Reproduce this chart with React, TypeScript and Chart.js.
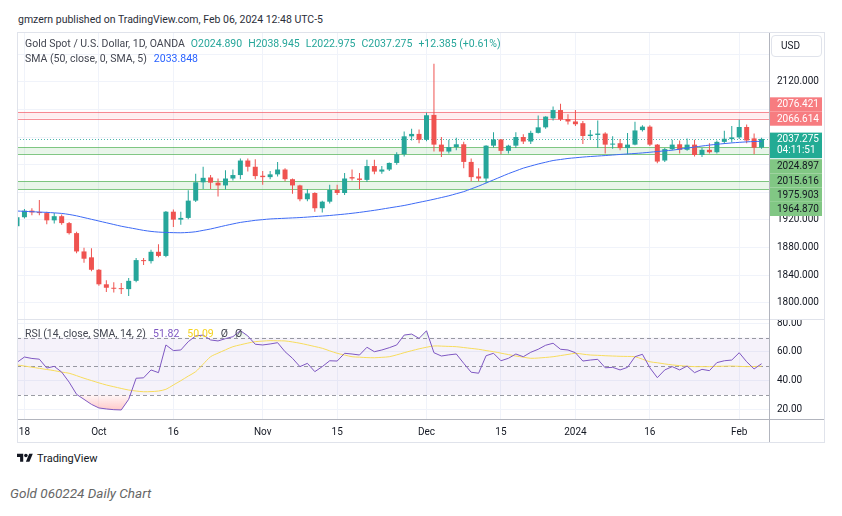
import React, { useEffect, useRef } from "react";
import { Chart, registerables } from "chart.js";

Chart.register(...registerables);

// ---------------- data ----------------
const dates = [
  "2023-09-15", "2023-09-18", "2023-09-19", "2023-09-20", "2023-09-21", "2023-09-22", "2023-09-25", "2023-09-26", "2023-09-27", "2023-09-28", "2023-09-29",
  "2023-10-02", "2023-10-03", "2023-10-04", "2023-10-05", "2023-10-06", "2023-10-09", "2023-10-10", "2023-10-11", "2023-10-12", "2023-10-13",
  "2023-10-16", "2023-10-17", "2023-10-18", "2023-10-19", "2023-10-20", "2023-10-23", "2023-10-24", "2023-10-25", "2023-10-26", "2023-10-27",
  "2023-10-30", "2023-10-31",
  "2023-11-01", "2023-11-02", "2023-11-03", "2023-11-06", "2023-11-07", "2023-11-08", "2023-11-09", "2023-11-10", "2023-11-13", "2023-11-14",
  "2023-11-15", "2023-11-16", "2023-11-17", "2023-11-20", "2023-11-21", "2023-11-22", "2023-11-23", "2023-11-24", "2023-11-27", "2023-11-28",
  "2023-11-29", "2023-11-30",
  "2023-12-01", "2023-12-04", "2023-12-05", "2023-12-06", "2023-12-07", "2023-12-08", "2023-12-11", "2023-12-12", "2023-12-13", "2023-12-14",
  "2023-12-15", "2023-12-18", "2023-12-19", "2023-12-20", "2023-12-21", "2023-12-22", "2023-12-26", "2023-12-27", "2023-12-28", "2023-12-29",
  "2024-01-02", "2024-01-03", "2024-01-04", "2024-01-05", "2024-01-08", "2024-01-09", "2024-01-10", "2024-01-11", "2024-01-12", "2024-01-15",
  "2024-01-16", "2024-01-17", "2024-01-18", "2024-01-19", "2024-01-22", "2024-01-23", "2024-01-24", "2024-01-25", "2024-01-26", "2024-01-29",
  "2024-01-30", "2024-01-31",
  "2024-02-01", "2024-02-02", "2024-02-05", "2024-02-06",
];

const opens = [
  1911, 1924, 1933.5, 1931, 1930, 1919.5, 1925.5, 1915.5, 1901, 1874.5,
  1866, 1848, 1827, 1822, 1821, 1820, 1832, 1862, 1860.5, 1874,
  1868, 1932, 1920.5, 1923, 1948, 1974.5, 1981.5, 1974, 1970, 1980,
  1985, 2006, 1997, 1984, 1982, 1986, 1993, 1979, 1970, 1950,
  1959, 1937, 1946.5, 1963.5, 1959, 1982, 1980, 1978, 1998, 1990,
  1993, 2002.5, 2015, 2041, 2044.5, 2036, 2072, 2029, 2019, 2025.5,
  2029.5, 2004, 1983, 1980, 2027.5, 2036.5, 2020, 2027.5, 2040, 2033.5,
  2046, 2054, 2067, 2079, 2066, 2062.5, 2060, 2041.5, 2043, 2045,
  2029, 2031, 2024, 2029, 2050, 2055, 2029, 2006, 2022.5, 2029.5,
  2021.5, 2029, 2014, 2021.5, 2018, 2033, 2037, 2039.5, 2054.5, 2038,
  2024.89,
];
const highs = [
  1928, 1936, 1937, 1949, 1932, 1930, 1928, 1917, 1903, 1880,
  1879, 1849, 1833, 1830, 1829, 1836, 1865, 1865, 1877, 1885,
  1933, 1935, 1932, 1963, 1987, 1997, 1985, 1980, 1992, 1993,
  2009, 2009, 2008, 1991, 1991, 2004, 1995, 1980, 1971, 1965,
  1960, 1948, 1971, 1971, 1988, 1993, 1988, 2007, 2007, 1998,
  2003, 2018, 2048, 2052, 2051, 2075, 2146, 2040, 2036, 2039,
  2033, 2009, 1995, 2028, 2047, 2037, 2029, 2047, 2044, 2049,
  2071, 2070, 2084, 2088, 2073, 2079, 2063, 2050, 2064, 2047,
  2041, 2037, 2046, 2062, 2057, 2057, 2030, 2024, 2036, 2035,
  2038, 2036, 2024, 2031, 2035, 2049, 2056, 2065, 2058, 2045,
  2038.945,
];
const lows = [
  1906, 1922, 1927, 1927, 1914, 1915, 1913, 1899, 1872, 1858,
  1846, 1825, 1816, 1815, 1813, 1810, 1830, 1855, 1857, 1866,
  1866, 1910, 1913, 1921, 1946, 1965, 1965, 1954, 1964, 1977,
  1979, 1990, 1979, 1971, 1979, 1983, 1976, 1958, 1947, 1947,
  1932, 1931, 1944, 1956, 1956, 1977, 1965, 1975, 1986, 1987,
  1991, 2000, 2012, 2035, 2031, 2034, 2019, 2011, 2016, 2021,
  1995, 1976, 1976, 1973, 2025, 2015, 2016, 2024, 2030, 2030,
  2045, 2052, 2064, 2063, 2058, 2056, 2030, 2036, 2024, 2016,
  2023, 2021, 2015, 2028, 2048, 2027, 2002, 2004, 2021, 2016,
  2020, 2012, 2011, 2016, 2016, 2030, 2032, 2037, 2031, 2015,
  2022.975,
];
const closes = [
  1924, 1933.5, 1931, 1930, 1919.5, 1925.5, 1915.5, 1901, 1874.5, 1864,
  1848, 1827, 1822, 1820.5, 1820, 1832, 1862, 1860.5, 1874, 1868,
  1932, 1920.5, 1923, 1948, 1974.5, 1981, 1974, 1970, 1980, 1985,
  2006, 1997, 1983.5, 1982, 1986, 1993, 1979, 1970, 1950, 1958.5,
  1937, 1946.5, 1963.5, 1959, 1980, 1980, 1978, 1998, 1990, 1993,
  2002.5, 2015, 2041, 2044.5, 2036, 2071.5, 2029, 2019, 2025.5, 2029.5,
  2004, 1982, 1980, 2027.5, 2036.5, 2020, 2027.5, 2040, 2033.5, 2046,
  2054, 2069.5, 2079, 2065.5, 2062.5, 2058.5, 2041.5, 2043.5, 2045, 2029,
  2030.5, 2024, 2029, 2049.5, 2055, 2029, 2004.5, 2022.5, 2029, 2021.5,
  2029, 2014, 2021.5, 2018, 2033, 2037.5, 2039.5, 2054.5, 2035, 2024.5,
  2037.275,
];

// SMA (50)
const sma50 = [
  1933, 1932.5, 1932, 1931.5, 1931, 1930.3, 1929.5, 1928, 1926, 1923.5,
  1921, 1918.5, 1916, 1913.5, 1911, 1909, 1907, 1905, 1903.5, 1902.5,
  1902, 1901.7, 1901.5, 1902, 1903, 1905, 1907, 1909.5, 1912, 1914.3,
  1916.5, 1918, 1919.5, 1920.5, 1921.5, 1922, 1922.5, 1923, 1923.5, 1924.2,
  1925, 1925.7, 1926.5, 1927.5, 1928.5, 1929.7, 1931, 1932.5, 1934, 1935.7,
  1937.5, 1939.2, 1941, 1943.2, 1945.5, 1947.7, 1950, 1952.5, 1955, 1958,
  1961, 1965, 1969, 1973.5, 1978, 1982.5, 1987, 1991, 1995, 1998,
  2001, 2003.5, 2006, 2007.5, 2009, 2010, 2011, 2011.8, 2012.5, 2013.2,
  2014, 2014.8, 2015.5, 2016.2, 2017, 2018, 2019, 2020, 2021, 2022.5,
  2024, 2025.5, 2027, 2028.3, 2029.5, 2030.5, 2031.5, 2032.3, 2033, 2033.5,
  2033.848,
];

// RSI (14) and its SMA(14)
const rsi = [
  52.8, 56.5, 55.5, 55, 48.8, 50, 46, 39, 30.5, 27,
  23.5, 21, 20.3, 19.8, 19.6, 27, 41.7, 42, 47.5, 45.6,
  64.9, 61, 61.4, 67.2, 71.2, 71.8, 68.4, 67.7, 69.3, 70.7,
  74.9, 71.2, 65.4, 64.9, 65.6, 66.5, 60.2, 55.6, 49.8, 52.1,
  46.3, 49.8, 53.9, 53.7, 59.1, 58.6, 57.9, 63.3, 60.2, 61.4,
  63, 64.9, 71.8, 72.5, 69.5, 74.8, 59.5, 57.2, 58, 58.6,
  52.1, 45.9, 45.2, 57.4, 59.1, 53.9, 55.6, 58.6, 56.7, 59.8,
  61.9, 64.7, 66.1, 61.9, 61.4, 59.5, 53.7, 54.4, 54.9, 49,
  49.3, 47.5, 49.3, 56.7, 58.4, 49, 42.1, 47.5, 49.8, 47.5,
  50.2, 45.6, 47.9, 47, 52.6, 53.9, 54.4, 59.5, 53.2, 48.2,
  51.82,
];
const rsiMa = [
  51, 50.2, 49.4, 48.6, 47.8, 47, 46, 45.2, 43.5, 41.7,
  40.1, 38.5, 37, 35.8, 34.6, 33.5, 32.8, 32.3, 32.4, 32.8,
  34, 37, 40, 43.2, 46.3, 51.5, 56.7, 59.2, 61.5, 63.7,
  65, 66.2, 67.2, 67.6, 67.9, 67.8, 67.7, 67, 66.1, 65,
  63.8, 62.6, 60.8, 59.1, 57.9, 56.7, 56.4, 56.1, 56, 56.3,
  56.7, 58, 59.5, 60.9, 62.2, 63.3, 64.2, 64.1, 63.9, 63.7,
  63.1, 62.5, 61.9, 61, 60.2, 59.2, 58.2, 57.2, 56.4, 55.6,
  55.8, 56.2, 56.7, 57.5, 58.3, 59.1, 58.5, 57.9, 57.7, 57.4,
  57.2, 57, 56.9, 56.7, 55, 53.2, 52.5, 51.7, 51, 50.5,
  50.1, 49.8, 49.8, 49.8, 50, 50.1, 50.2, 50, 49.8, 49.9,
  50.09,
];
const rsiBands = [70, 50, 30];
const rsiTicks = [20, 40, 60, 80];

// horizontal zones
const resistanceZone = [2076.421, 2066.614];
const supportZones = [
  [2024.897, 2015.616],
  [1975.903, 1964.87],
];
const countdown = "04:11:51";

// axis ticks
const priceGridLevels = [2160, 2120, 2080, 2040, 2000, 1960, 1920, 1880, 1840, 1800];
const priceTickLabels = [2120, 1920, 1880, 1840, 1800];
const timeTickDates = ["2023-09-18", "2023-10-02", "2023-10-16", "2023-11-01", "2023-11-15", "2023-12-01", "2023-12-15", "2024-01-02", "2024-01-16", "2024-02-01"];
const timeTickLabels = ["18", "Oct", "16", "Nov", "15", "Dec", "15", "2024", "16", "Feb"];

// texts
const publishedText = "gmzern published on TradingView.com, Feb 06, 2024 12:48 UTC-5";
const symbolTitle = "Gold Spot / U.S. Dollar, 1D, OANDA";
const changeText = "+12.385 (+0.61%)";
const smaTitle = "SMA (50, close, 0, SMA, 5)";
const rsiTitle = "RSI (14, close, SMA, 14, 2)";
const naMark = "Ø";
const caption = "Gold 060224 Daily Chart";

// ---------------- style ----------------
const FONT = "Roboto, 'Noto Sans', Arial, sans-serif";
const UP = "#26a69a";
const DOWN = "#ef5350";
const GRID = "#f0f3fa";
const TEXT = "#131722";
const AXIS_W = 56;
const priceView = { min: 1776.8, max: 2191.9 };
const rsiView = { min: 13.3, max: 83.0 };

const lastIdx = closes.length - 1;
const lastPrice = closes[lastIdx];

const zonesPlugin = {
  id: "zones",
  beforeDatasetsDraw(chart: any) {
    const { ctx, chartArea } = chart;
    const y = chart.scales.y;
    const { left, right } = chartArea;
    ctx.save();
    const band = (hi: number, lo: number, fill: string, stroke: string) => {
      const y1 = y.getPixelForValue(hi);
      const y2 = y.getPixelForValue(lo);
      ctx.fillStyle = fill;
      ctx.fillRect(left, y1, right - left, y2 - y1);
      ctx.strokeStyle = stroke;
      ctx.lineWidth = 1;
      ctx.setLineDash([]);
      for (const yy of [y1, y2]) {
        const p = Math.round(yy) + 0.5;
        ctx.beginPath();
        ctx.moveTo(left, p);
        ctx.lineTo(right, p);
        ctx.stroke();
      }
    };
    band(resistanceZone[0], resistanceZone[1], "rgba(242,54,69,0.08)", "rgba(242,54,69,0.55)");
    for (const z of supportZones) band(z[0], z[1], "rgba(76,175,80,0.12)", "rgba(76,175,80,0.7)");
    const py = Math.round(y.getPixelForValue(lastPrice)) + 0.5;
    ctx.setLineDash([1, 2]);
    ctx.strokeStyle = "rgba(38,166,154,0.8)";
    ctx.beginPath();
    ctx.moveTo(left, py);
    ctx.lineTo(right, py);
    ctx.stroke();
    ctx.restore();
  },
};

const priceLabelsPlugin = {
  id: "priceLabels",
  afterDraw(chart: any) {
    const { ctx, chartArea } = chart;
    const y = chart.scales.y;
    const x0 = chartArea.right + 1;
    const w = 52;
    const row = 14.2;
    const tx = chartArea.right + 8;
    ctx.save();
    ctx.font = `10px ${FONT}`;
    ctx.textBaseline = "middle";
    ctx.textAlign = "left";
    const ly = y.getPixelForValue(lastPrice);
    const lTop = ly - 6.3;
    const lH = 25.6;
    ctx.fillStyle = "#22ab94";
    ctx.fillRect(x0, lTop, w, lH);
    ctx.fillStyle = "#ffffff";
    ctx.fillText(lastPrice.toFixed(3), tx, ly + 0.5);
    ctx.fillText(countdown, tx, ly + 11.5);

    let prevTop = lTop - 1;
    const res = [...resistanceZone].sort((a, b) => a - b);
    for (const v of res) {
      const t = Math.min(y.getPixelForValue(v) - row / 2, prevTop - row);
      ctx.fillStyle = "#f77c80";
      ctx.fillRect(x0, t, w, row);
      ctx.fillStyle = "#ffffff";
      ctx.fillText(v.toFixed(3), tx, t + row / 2 + 0.5);
      prevTop = t;
    }

    let prevBottom = lTop + lH + 1;
    const sup = supportZones.flat().sort((a, b) => b - a);
    for (const v of sup) {
      const t = Math.max(y.getPixelForValue(v) - row / 2, prevBottom);
      ctx.fillStyle = "#81c784";
      ctx.fillRect(x0, t, w, row);
      ctx.fillStyle = TEXT;
      ctx.fillText(v.toFixed(3), tx, t + row / 2 + 0.5);
      prevBottom = t + row;
    }
    ctx.restore();
  },
};

const rsiBandPlugin = {
  id: "rsiBand",
  beforeDatasetsDraw(chart: any) {
    const { ctx, chartArea } = chart;
    const y = chart.scales.y;
    const { left, right } = chartArea;
    const yTop = y.getPixelForValue(rsiBands[0]);
    const yBot = y.getPixelForValue(rsiBands[2]);
    ctx.save();
    ctx.fillStyle = "rgba(126,87,194,0.08)";
    ctx.fillRect(left, yTop, right - left, yBot - yTop);
    ctx.strokeStyle = "rgba(120,123,134,0.75)";
    ctx.lineWidth = 1;
    ctx.setLineDash([4, 3]);
    for (const v of rsiBands) {
      const p = Math.round(y.getPixelForValue(v)) + 0.5;
      ctx.beginPath();
      ctx.moveTo(left, p);
      ctx.lineTo(right, p);
      ctx.stroke();
    }
    ctx.restore();
  },
};

function xScale(showLabels: boolean, tickIdx: number[], n: number): any {
  return {
    type: "linear",
    min: 0,
    max: n,
    offset: false,
    afterBuildTicks: (s: any) => {
      s.ticks = tickIdx.map((v) => ({ value: v }));
    },
    ticks: {
      display: showLabels,
      autoSkip: false,
      maxRotation: 0,
      minRotation: 0,
      padding: 7,
      color: TEXT,
      font: { family: FONT, size: 10 },
      callback: (_v: any, i: number) => timeTickLabels[i],
    },
    grid: { color: GRID, drawTicks: false, offset: false },
    border: { display: false },
    afterFit: (s: any) => {
      s.height = showLabels ? 24 : 0;
      s.paddingLeft = 0;
      s.paddingRight = 0;
    },
  };
}

export default function App() {
  const priceRef = useRef<HTMLCanvasElement>(null);
  const rsiRef = useRef<HTMLCanvasElement>(null);

  useEffect(() => {
    const n = dates.length;
    const tickIdx = timeTickDates.map((d) => dates.indexOf(d));
    const candleColors = closes.map((c, i) => (c >= opens[i] ? UP : DOWN));

    const price = new Chart(priceRef.current as HTMLCanvasElement, {
      type: "bar",
      data: {
        datasets: [
          {
            type: "bar",
            data: dates.map((_, i) => ({ x: i, y: [lows[i], highs[i]] })),
            backgroundColor: candleColors,
            borderWidth: 0,
            barThickness: 1,
            grouped: false,
            inflateAmount: 0,
            order: 2,
          },
          {
            type: "bar",
            data: dates.map((_, i) => ({ x: i, y: [opens[i], closes[i]] })),
            backgroundColor: candleColors,
            borderWidth: 0,
            barThickness: 5,
            minBarLength: 1,
            grouped: false,
            inflateAmount: 0,
            order: 1,
          },
          {
            type: "line",
            data: dates.map((_, i) => ({ x: i, y: sma50[i] })),
            borderColor: "#3d6af5",
            borderWidth: 1,
            pointRadius: 0,
            tension: 0.3,
            fill: false,
            order: 0,
          },
        ],
      } as any,
      options: {
        responsive: false,
        animation: false,
        events: [],
        layout: { padding: 0 },
        plugins: { legend: { display: false }, tooltip: { enabled: false } },
        scales: {
          x: xScale(false, tickIdx, n),
          y: {
            type: "linear",
            position: "right",
            min: priceView.min,
            max: priceView.max,
            afterBuildTicks: (s: any) => {
              s.ticks = priceGridLevels.map((v) => ({ value: v }));
            },
            ticks: {
              padding: 8,
              color: TEXT,
              font: { family: FONT, size: 10 },
              callback: (v: any) => (priceTickLabels.includes(v) ? Number(v).toFixed(3) : ""),
            },
            grid: { color: GRID, drawTicks: false },
            border: { display: false },
            afterFit: (s: any) => {
              s.width = AXIS_W;
              s.paddingTop = 0;
              s.paddingBottom = 0;
            },
          },
        },
      } as any,
      plugins: [zonesPlugin, priceLabelsPlugin],
    });

    const osGradient = (c: any) => {
      const chart = c.chart;
      const { chartArea, scales } = chart;
      if (!chartArea || !scales || !scales.y) return "rgba(242,54,69,0.2)";
      const g = chart.ctx.createLinearGradient(0, scales.y.getPixelForValue(30), 0, scales.y.getPixelForValue(0));
      g.addColorStop(0, "rgba(255,82,82,0.05)");
      g.addColorStop(1, "rgba(255,82,82,0.8)");
      return g;
    };
    const obGradient = (c: any) => {
      const chart = c.chart;
      const { chartArea, scales } = chart;
      if (!chartArea || !scales || !scales.y) return "rgba(76,175,80,0.2)";
      const g = chart.ctx.createLinearGradient(0, scales.y.getPixelForValue(70), 0, scales.y.getPixelForValue(100));
      g.addColorStop(0, "rgba(76,175,80,0.05)");
      g.addColorStop(1, "rgba(76,175,80,0.8)");
      return g;
    };

    const rsiChart = new Chart(rsiRef.current as HTMLCanvasElement, {
      type: "line",
      data: {
        datasets: [
          {
            data: dates.map((_, i) => ({ x: i, y: rsi[i] })),
            borderColor: "#7e57c2",
            borderWidth: 1,
            pointRadius: 0,
            fill: false,
            order: 0,
          },
          {
            data: dates.map((_, i) => ({ x: i, y: rsiMa[i] })),
            borderColor: "#f7dc5c",
            borderWidth: 1,
            pointRadius: 0,
            tension: 0.3,
            fill: false,
            order: 1,
          },
          {
            data: dates.map((_, i) => ({ x: i, y: rsi[i] })),
            borderColor: "rgba(0,0,0,0)",
            borderWidth: 0,
            pointRadius: 0,
            backgroundColor: osGradient,
            fill: { target: { value: rsiBands[2] }, above: "rgba(0,0,0,0)" },
            order: 2,
          },
          {
            data: dates.map((_, i) => ({ x: i, y: rsi[i] })),
            borderColor: "rgba(0,0,0,0)",
            borderWidth: 0,
            pointRadius: 0,
            backgroundColor: obGradient,
            fill: { target: { value: rsiBands[0] }, below: "rgba(0,0,0,0)" },
            order: 3,
          },
        ],
      } as any,
      options: {
        responsive: false,
        animation: false,
        events: [],
        layout: { padding: 0 },
        plugins: { legend: { display: false }, tooltip: { enabled: false } },
        scales: {
          x: xScale(true, tickIdx, n),
          y: {
            type: "linear",
            position: "right",
            min: rsiView.min,
            max: rsiView.max,
            afterBuildTicks: (s: any) => {
              s.ticks = rsiTicks.map((v) => ({ value: v }));
            },
            ticks: {
              padding: 8,
              color: TEXT,
              font: { family: FONT, size: 10 },
              callback: (v: any) => Number(v).toFixed(2),
            },
            grid: { color: GRID, drawTicks: false },
            border: { display: false },
            afterFit: (s: any) => {
              s.width = AXIS_W;
              s.paddingTop = 0;
              s.paddingBottom = 0;
            },
          },
        },
      } as any,
      plugins: [rsiBandPlugin],
    });

    return () => {
      price.destroy();
      rsiChart.destroy();
    };
  }, []);

  const fmt = (v: number) => v.toFixed(3);
  const teal = "#26a69a";
  const abs = (s: any) => ({ position: "absolute", ...s }) as React.CSSProperties;

  return (
    <div style={abs({ left: 0, top: 0, width: 842, height: 516, background: "#ffffff", overflow: "hidden", fontFamily: FONT })}>
      <div style={abs({ left: 18, top: 13, fontSize: 10.5, lineHeight: "14px", color: "#2a2e39", whiteSpace: "nowrap" })}>{publishedText}</div>

      <canvas ref={priceRef} width={808} height={287} style={abs({ left: 17, top: 32 })} />
      <canvas ref={rsiRef} width={808} height={124} style={abs({ left: 17, top: 319 })} />

      {/* structure lines */}
      <div style={abs({ left: 17, top: 319, width: 808, height: 1, background: "#e0e3eb" })} />
      <div style={abs({ left: 17, top: 419, width: 808, height: 1, background: "#b2b5be" })} />
      <div style={abs({ left: 769, top: 32, width: 1, height: 411, background: "#b2b5be" })} />
      <div style={abs({ left: 17, top: 32, width: 808, height: 411, border: "1px solid #e0e3eb", boxSizing: "border-box" })} />

      {/* USD box */}
      <div style={abs({ left: 771, top: 35, width: 51, height: 22, border: "1px solid #e0e3eb", borderRadius: 4, boxSizing: "border-box", background: "#ffffff", fontSize: 10, lineHeight: "20px", paddingLeft: 9, color: TEXT })}>USD</div>

      {/* legends */}
      <div style={abs({ left: 25, top: 37, fontSize: 10.5, lineHeight: "14px", color: "#434651", whiteSpace: "nowrap" })}>
        {symbolTitle}
        <span style={{ color: teal, marginLeft: 6 }}>O{fmt(opens[lastIdx])}</span>
        <span style={{ color: teal, marginLeft: 6 }}>H{fmt(highs[lastIdx])}</span>
        <span style={{ color: teal, marginLeft: 6 }}>L{fmt(lows[lastIdx])}</span>
        <span style={{ color: teal, marginLeft: 6 }}>C{fmt(closes[lastIdx])}</span>
        <span style={{ color: teal, marginLeft: 6 }}>{changeText}</span>
      </div>
      <div style={abs({ left: 25, top: 52, fontSize: 10.5, lineHeight: "14px", color: "#434651", whiteSpace: "nowrap" })}>
        {smaTitle}
        <span style={{ color: "#2962ff", marginLeft: 7 }}>{fmt(sma50[lastIdx])}</span>
      </div>
      <div style={abs({ left: 25, top: 327, fontSize: 10.5, lineHeight: "14px", color: "#434651", whiteSpace: "nowrap" })}>
        {rsiTitle}
        <span style={{ color: "#7e57c2", marginLeft: 7 }}>{rsi[lastIdx].toFixed(2)}</span>
        <span style={{ color: "#f5d21e", marginLeft: 8 }}>{rsiMa[lastIdx].toFixed(2)}</span>
        <span style={{ color: "#434651", marginLeft: 7 }}>{naMark}</span>
        <span style={{ color: "#434651", marginLeft: 7 }}>{naMark}</span>
      </div>

      {/* TradingView logo */}
      <svg width="16" height="12.5" viewBox="0 0 36 28" style={abs({ left: 17, top: 452 })}>
        <path d="M14 22H7V11H0V4h14v18zM28 22h-8l7.5-18h8L28 22z" fill="#131722" />
        <circle cx="20" cy="8" r="4" fill="#131722" />
      </svg>
      <div style={abs({ left: 37, top: 452, fontSize: 11, lineHeight: "14px", color: "#131722", whiteSpace: "nowrap" })}>TradingView</div>

      <div style={abs({ left: 10, top: 484, fontSize: 13.5, lineHeight: "18px", color: "#666666", fontStyle: "italic", whiteSpace: "nowrap" })}>{caption}</div>
    </div>
  );
}
